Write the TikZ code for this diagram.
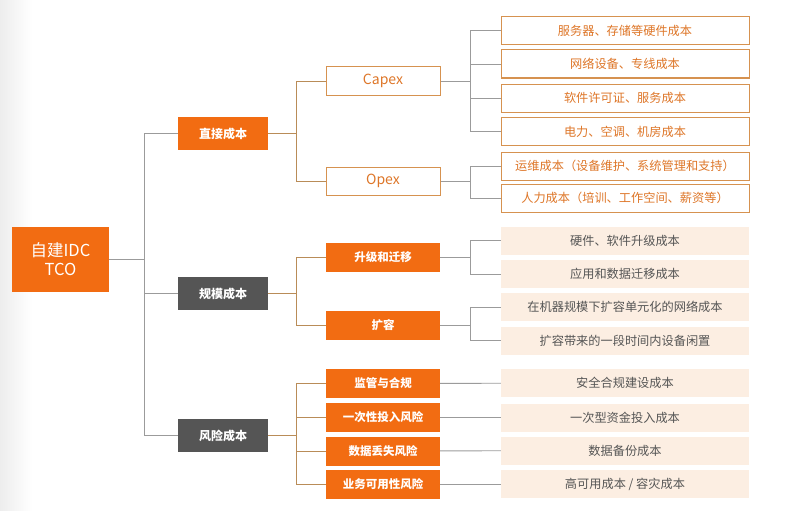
\documentclass[tikz,border=0pt]{standalone}
\usepackage{fontspec}
\setmainfont{Noto Sans CJK SC}
\usepackage{xcolor}
\usepackage{tikz}
\usetikzlibrary{positioning, calc}

\definecolor{tcoorange}{RGB}{242,108,18}
\definecolor{tcogray}{RGB}{85,85,85}
\definecolor{tcotan}{RGB}{185,140,88}
\definecolor{tcoline}{RGB}{155,155,155}
\definecolor{tcoborder}{RGB}{214,146,80}
\definecolor{tcotext}{RGB}{222,118,40}
\definecolor{tcobeige}{RGB}{252,238,226}

\begin{document}
\begin{tikzpicture}[
    x=1pt, y=-1pt,
    rootbox/.style={rectangle, fill=tcoorange, text=white, minimum width=97pt, minimum height=65pt, inner sep=0pt, align=center, font=\fontsize{16.5}{19}\selectfont},
    topic/.style={rectangle, text=white, minimum width=90pt, minimum height=33pt, inner sep=0pt, font=\fontsize{12}{14}\selectfont\bfseries},
    sub/.style={rectangle, fill=tcoorange, text=white, minimum width=114pt, minimum height=29pt, inner sep=0pt, font=\fontsize{11.5}{14}\selectfont\bfseries},
    subline/.style={rectangle, draw=tcoborder, line width=1pt, fill=white, text=tcotext, minimum width=114pt, minimum height=28pt, inner sep=0pt, font=\fontsize{14}{16}\selectfont},
    leafline/.style={rectangle, draw=tcoborder, line width=1pt, fill=white, text=tcotext, minimum width=248pt, minimum height=28pt, inner sep=0pt, font=\fontsize{12.2}{14}\selectfont},
    leaffill/.style={rectangle, fill=tcobeige, text=tcogray, minimum width=248pt, minimum height=28pt, inner sep=0pt, font=\fontsize{12.2}{14}\selectfont},
    link/.style={draw=tcoline, line width=0.9pt},
    tanlink/.style={draw=tcotan, line width=0.9pt}
]
\useasboundingbox (0,0) rectangle (795,511);
\shade[left color=black!7, right color=white] (0,0) rectangle (32,511);

% root and first level
\node[rootbox] (root) at (60.5,259.5) {自建IDC\\TCO};
\node[topic, fill=tcoorange] (direct) at (223,133.5) {直接成本};
\node[topic, fill=tcogray] (scale) at (223,293.5) {规模成本};
\node[topic, fill=tcogray] (risk) at (223,435.5) {风险成本};

% second level
\node[subline] (capex) at (383,81) {Capex};
\node[subline] (opex) at (383,181) {Opex};
\node[sub] (upgrade) at (383,257) {升级和迁移};
\node[sub] (expand) at (383,325.5) {扩容};
\node[sub] (comply) at (383,383.5) {监管与合规};
\node[sub] (onetime) at (383,417.5) {一次性投入风险};
\node[sub] (dataloss) at (383,451) {数据丢失风险};
\node[sub] (avail) at (383,484) {业务可用性风险};

% leaves
\node[leafline] (c1) at (625,30.5) {服务器、存储等硬件成本};
\node[leafline] (c2) at (625,64) {网络设备、专线成本};
\node[leafline] (c3) at (625,98) {软件许可证、服务成本};
\node[leafline] (c4) at (625,131.5) {电力、空调、机房成本};
\node[leafline] (o1) at (625,166) {运维成本（设备维护、系统管理和支持）};
\node[leafline] (o2) at (625,198) {人力成本（培训、工作空间、薪资等）};
\node[leaffill] (u1) at (625,240.5) {硬件、软件升级成本};
\node[leaffill] (u2) at (625,274) {应用和数据迁移成本};
\node[leaffill] (e1) at (625,307) {在机器规模下扩容单元化的网络成本};
\node[leaffill] (e2) at (625,340.5) {扩容带来的一段时间内设备闲置};
\node[leaffill] (r1) at (625,383) {安全合规建设成本};
\node[leaffill] (r2) at (625,417.5) {一次型资金投入成本};
\node[leaffill] (r3) at (625,450.5) {数据备份成本};
\node[leaffill] (r4) at (625,484) {高可用成本 / 容灾成本};

% bus positions
\coordinate (bus1) at (144.5,0);
\coordinate (bus2) at (296.5,0);
\coordinate (bus3) at (470.5,0);

% root to first level
\draw[link] (root.east) -- (root.east -| bus1);
\draw[link] (direct.west) -| (bus1 |- risk.west) -- (risk.west);
\draw[link] (scale.west) -- (scale.west -| bus1);

% first level to second level
\draw[tanlink] (direct.east) -- (direct.east -| bus2);
\draw[tanlink] (capex.west) -| (bus2 |- opex.west) -- (opex.west);
\draw[tanlink] (scale.east) -- (scale.east -| bus2);
\draw[tanlink] (upgrade.west) -| (bus2 |- expand.west) -- (expand.west);
\draw[tanlink] (risk.east) -- (risk.east -| bus2);
\draw[tanlink] (comply.west) -| (bus2 |- avail.west) -- (avail.west);
\draw[tanlink] (onetime.west) -- (onetime.west -| bus2);
\draw[tanlink] (dataloss.west) -- (dataloss.west -| bus2);

% second level to leaves
\draw[link] (capex.east) -- (capex.east -| bus3);
\draw[link] (c1.west) -| (bus3 |- c4.west) -- (c4.west);
\draw[link] (c2.west) -- (c2.west -| bus3);
\draw[link] (c3.west) -- (c3.west -| bus3);
\draw[link] (opex.east) -- (opex.east -| bus3);
\draw[link] (o1.west) -| (bus3 |- o2.west) -- (o2.west);
\draw[link] (upgrade.east) -- (upgrade.east -| bus3);
\draw[link] (u1.west) -| (bus3 |- u2.west) -- (u2.west);
\draw[link] (expand.east) -- (expand.east -| bus3);
\draw[link] (e1.west) -| (bus3 |- e2.west) -- (e2.west);
\draw[link] (comply) -- (r1);
\draw[link] (onetime) -- (r2);
\draw[link] (dataloss) -- (r3);
\draw[link] (avail) -- (r4);

\end{tikzpicture}
\end{document}
